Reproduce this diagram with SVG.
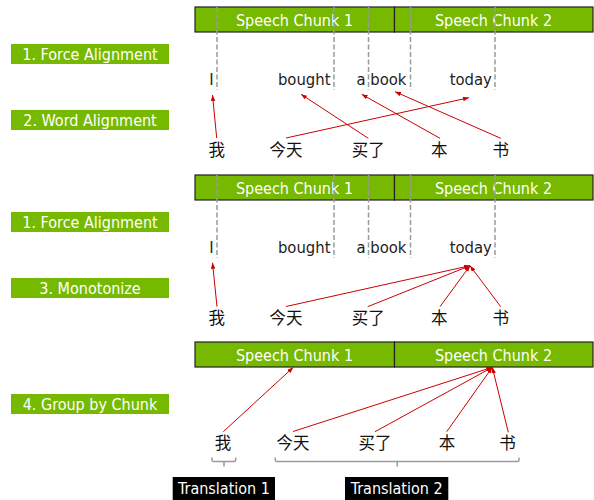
<svg xmlns="http://www.w3.org/2000/svg" width="594" height="500" viewBox="0 0 594 500">
  <style>
    .lbl { fill: #76b900; }
    .lbl-t { font-family: "DejaVu Sans Condensed", "DejaVu Sans", sans-serif; font-stretch: condensed; font-size: 16px; fill: #ffffff; text-anchor: middle; }
    .chunk { fill: #76b900; stroke: #222222; stroke-width: 1.2; }
    .chunk-t { font-family: "DejaVu Sans Condensed", "DejaVu Sans", sans-serif; font-stretch: condensed; font-size: 16px; fill: #ffffff; text-anchor: middle; }
    .word { font-family: "DejaVu Sans Condensed", "DejaVu Sans", sans-serif; font-stretch: condensed; font-size: 16.5px; fill: #222222; text-anchor: middle; }
    .zh { font-family: "Noto Sans CJK SC", sans-serif; font-size: 16.5px; fill: #111111; text-anchor: middle; }
    .bound { stroke: #9a9a9a; stroke-width: 1.5; stroke-dasharray: 5 2.5; fill: none; }
    .link { stroke: #cc0000; stroke-width: 1; fill: none; marker-end: url(#arrow); }
    .brace { stroke: #9a9a9a; stroke-width: 1.5; fill: none; stroke-linejoin: round; }
    .tr { fill: #000000; }
    .tr-t { font-family: "DejaVu Sans Condensed", "DejaVu Sans", sans-serif; font-stretch: condensed; font-size: 16px; fill: #ffffff; text-anchor: middle; }
  </style>
  <defs>
    <marker id="arrow" markerUnits="userSpaceOnUse" markerWidth="7" markerHeight="5" refX="6" refY="2.25" orient="auto">
      <path d="M0,0 L6,2.25 L0,4.5 z" fill="#cc0000"/>
    </marker>
  </defs>

  <!-- step labels -->
  <g id="step-force-1"><rect class="lbl" x="11" y="44" width="158" height="20"/><text class="lbl-t" x="90" y="59.5">1. Force Alignment</text></g>
  <g id="step-word"><rect class="lbl" x="11" y="110" width="158" height="20"/><text class="lbl-t" x="90" y="125.5">2. Word Alignment</text></g>
  <g id="step-force-2"><rect class="lbl" x="11" y="212" width="158" height="20"/><text class="lbl-t" x="90" y="227.5">1. Force Alignment</text></g>
  <g id="step-mono"><rect class="lbl" x="11" y="278" width="158" height="20"/><text class="lbl-t" x="90" y="293.5">3. Monotonize</text></g>
  <g id="step-group"><rect class="lbl" x="11" y="394" width="158" height="20"/><text class="lbl-t" x="90" y="409.5">4. Group by Chunk</text></g>

  <!-- panel 1: word alignment -->
  <g id="p1-chunk1"><rect class="chunk" x="195" y="7" width="199.5" height="25"/><text class="chunk-t" x="294.5" y="25.5">Speech Chunk 1</text></g>
  <g id="p1-chunk2"><rect class="chunk" x="394.5" y="7" width="198.5" height="25"/><text class="chunk-t" x="493.5" y="25.5">Speech Chunk 2</text></g>
  <g id="p1-bounds">
    <line class="bound" x1="217" y1="7" x2="217" y2="90"/>
    <line class="bound" x1="334" y1="7" x2="334" y2="90"/>
    <line class="bound" x1="368.5" y1="7" x2="368.5" y2="90"/>
    <line class="bound" x1="410.5" y1="7" x2="410.5" y2="90"/>
    <line class="bound" x1="495" y1="7" x2="495" y2="90"/>
  </g>
  <g id="p1-en-I"><text class="word" x="211.5" y="85">I</text></g>
  <g id="p1-en-bought"><text class="word" x="304.2" y="85">bought</text></g>
  <g id="p1-en-a"><text class="word" x="361" y="85">a</text></g>
  <g id="p1-en-book"><text class="word" x="388.3" y="85">book</text></g>
  <g id="p1-en-today"><text class="word" x="470.8" y="85">today</text></g>
  <g id="p1-zh-wo"><text class="zh" x="216.7" y="155.5">我</text></g>
  <g id="p1-zh-jintian"><text class="zh" x="286" y="155.5">今天</text></g>
  <g id="p1-zh-maile"><text class="zh" x="368.3" y="155.5">买了</text></g>
  <g id="p1-zh-ben"><text class="zh" x="439.2" y="155.5">本</text></g>
  <g id="p1-zh-shu"><text class="zh" x="500.8" y="155.5">书</text></g>

  <!-- panel 2: monotonized alignment -->
  <g id="p2-chunk1"><rect class="chunk" x="195" y="175" width="199.5" height="25"/><text class="chunk-t" x="294.5" y="193.5">Speech Chunk 1</text></g>
  <g id="p2-chunk2"><rect class="chunk" x="394.5" y="175" width="198.5" height="25"/><text class="chunk-t" x="493.5" y="193.5">Speech Chunk 2</text></g>
  <g id="p2-bounds">
    <line class="bound" x1="217" y1="175" x2="217" y2="258"/>
    <line class="bound" x1="334" y1="175" x2="334" y2="258"/>
    <line class="bound" x1="368.5" y1="175" x2="368.5" y2="258"/>
    <line class="bound" x1="410.5" y1="175" x2="410.5" y2="258"/>
    <line class="bound" x1="495" y1="175" x2="495" y2="258"/>
  </g>
  <g id="p2-en-I"><text class="word" x="211.5" y="253">I</text></g>
  <g id="p2-en-bought"><text class="word" x="304.2" y="253">bought</text></g>
  <g id="p2-en-a"><text class="word" x="361" y="253">a</text></g>
  <g id="p2-en-book"><text class="word" x="388.3" y="253">book</text></g>
  <g id="p2-en-today"><text class="word" x="470.8" y="253">today</text></g>
  <g id="p2-zh-wo"><text class="zh" x="216.7" y="323.5">我</text></g>
  <g id="p2-zh-jintian"><text class="zh" x="286" y="323.5">今天</text></g>
  <g id="p2-zh-maile"><text class="zh" x="368.3" y="323.5">买了</text></g>
  <g id="p2-zh-ben"><text class="zh" x="439.2" y="323.5">本</text></g>
  <g id="p2-zh-shu"><text class="zh" x="500.8" y="323.5">书</text></g>

  <!-- panel 3: grouped by chunk -->
  <g id="p3-chunk1"><rect class="chunk" x="195" y="342" width="199.5" height="25"/><text class="chunk-t" x="294.5" y="360.5">Speech Chunk 1</text></g>
  <g id="p3-chunk2"><rect class="chunk" x="394.5" y="342" width="198.5" height="25"/><text class="chunk-t" x="493.5" y="360.5">Speech Chunk 2</text></g>
  <g id="p3-zh-wo"><text class="zh" x="223" y="449">我</text></g>
  <g id="p3-zh-jintian"><text class="zh" x="293" y="449">今天</text></g>
  <g id="p3-zh-maile"><text class="zh" x="375" y="449">买了</text></g>
  <g id="p3-zh-ben"><text class="zh" x="447" y="449">本</text></g>
  <g id="p3-zh-shu"><text class="zh" x="507.5" y="449">书</text></g>
  <g id="brace-1"><path class="brace" d="M212,457.5 V460 Q212,461.5 213.5,461.5 H234.2 Q235.7,461.5 235.7,460 V457.5 M224,461.5 V466.5"/></g>
  <g id="brace-2"><path class="brace" d="M275.3,457.5 V460 Q275.3,461.5 276.8,461.5 H517.5 Q519,461.5 519,460 V457.5 M397.3,461.5 V466.5"/></g>
  <g id="translation-1"><rect class="tr" x="172.7" y="477" width="102.3" height="23"/><text class="tr-t" x="224" y="494.3">Translation 1</text></g>
  <g id="translation-2"><rect class="tr" x="345" y="477" width="103.3" height="23"/><text class="tr-t" x="396.7" y="494.3">Translation 2</text></g>

  <!-- alignment connectors -->
  <g id="connectors">
    <line class="link" x1="216.7" y1="138" x2="212.5" y2="95"/>
    <line class="link" x1="286" y1="138" x2="469" y2="97.7"/>
    <line class="link" x1="368.3" y1="138.3" x2="301" y2="94.3"/>
    <line class="link" x1="440" y1="138.3" x2="361.7" y2="94.3"/>
    <line class="link" x1="500.7" y1="138.3" x2="395" y2="91.7"/>

    <line class="link" x1="217" y1="306.7" x2="212.5" y2="262.7"/>
    <line class="link" x1="286" y1="306.5" x2="470" y2="265.7"/>
    <line class="link" x1="367.7" y1="306.7" x2="470" y2="265.7"/>
    <line class="link" x1="440" y1="306.7" x2="470" y2="265.7"/>
    <line class="link" x1="500.7" y1="306.7" x2="470" y2="265.7"/>

    <line class="link" x1="223.3" y1="431.7" x2="293.3" y2="367.3"/>
    <line class="link" x1="293" y1="431.5" x2="492.3" y2="367.3"/>
    <line class="link" x1="375" y1="431.7" x2="492.3" y2="367.3"/>
    <line class="link" x1="446.7" y1="431.7" x2="492.3" y2="367.3"/>
    <line class="link" x1="508.3" y1="432.3" x2="492.3" y2="367.3"/>
  </g>
</svg>
